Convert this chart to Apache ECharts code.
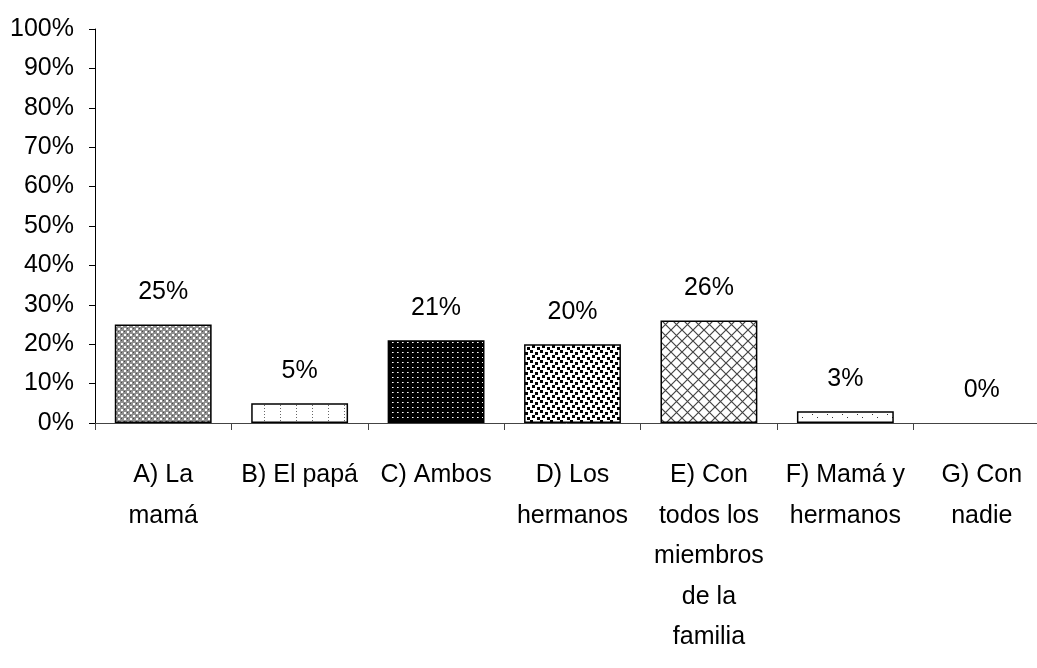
<!DOCTYPE html>
<html>
<head>
<meta charset="utf-8">
<script src="https://cdn.jsdelivr.net/npm/echarts@6/dist/echarts.min.js"></script>
<style>
html,body{margin:0;padding:0;background:#fff;}
#c{width:1037px;height:668px;}
</style>
</head>
<body>
<div id="c"></div>
<script>
const categories = [
  "A) La\nmamá",
  "B) El papá",
  "C) Ambos",
  "D) Los\nhermanos",
  "E) Con\ntodos los\nmiembros\nde la\nfamilia",
  "F) Mamá y\nhermanos",
  "G) Con\nnadie"
];
const values = [25, 5, 21, 20, 26, 3, 0];
const yTicks = [0, 10, 20, 30, 40, 50, 60, 70, 80, 90, 100];

const FONT = "'Liberation Sans', Arial, sans-serif";
const FS = 25;

function tile(w, h, draw) {
  const c = document.createElement('canvas');
  c.width = w; c.height = h;
  const ctx = c.getContext('2d');
  draw(ctx, w, h);
  return {image: c, repeat: 'repeat'};
}
const patterns = [
  // A: gray checker with white dots
  tile(6, 6, (x) => {
    x.fillStyle = '#8f8f8f'; x.fillRect(0, 0, 6, 6);
    x.fillStyle = '#ffffff';
    x.fillRect(1, 1, 2, 2); x.fillRect(4, 4, 2, 2);
    x.fillStyle = '#4a4a4a';
    x.fillRect(4, 1, 1, 1); x.fillRect(1, 4, 1, 1);
  }),
  // B: white with dotted vertical lines
  tile(16, 6, (x) => {
    x.fillStyle = '#ffffff'; x.fillRect(0, 0, 16, 6);
    x.fillStyle = '#666666';
    x.fillRect(8, 0, 1, 1); x.fillRect(8, 3, 1, 1);
  }),
  // C: black with white dots
  tile(5, 5, (x) => {
    x.fillStyle = '#000000'; x.fillRect(0, 0, 5, 5);
    x.fillStyle = '#ffffff'; x.fillRect(2, 2, 1, 1);
    x.fillStyle = '#999999'; x.fillRect(3, 2, 1, 1);
  }),
  // D: white with staggered black squares
  tile(10, 10, (x) => {
    x.fillStyle = '#ffffff'; x.fillRect(0, 0, 10, 10);
    x.fillStyle = '#000000';
    x.fillRect(0, 0, 3, 3); x.fillRect(5, 2, 3, 3);
    x.fillRect(2, 5, 3, 3); x.fillRect(7, 7, 3, 3);
  }),
  // E: diagonal crosshatch
  tile(11, 11, (x) => {
    x.fillStyle = '#ffffff'; x.fillRect(0, 0, 11, 11);
    x.strokeStyle = '#444444'; x.lineWidth = 1.2;
    x.beginPath();
    x.moveTo(0, 0); x.lineTo(11, 11);
    x.moveTo(11, 0); x.lineTo(0, 11);
    x.stroke();
  }),
  // F: sparse dots
  tile(15, 8, (x) => {
    x.fillStyle = '#ffffff'; x.fillRect(0, 0, 15, 8);
    x.fillStyle = '#333333';
    x.fillRect(7, 1, 1, 1); x.fillRect(2, 6, 1, 1);
  }),
  // G
  tile(4, 4, (x) => { x.fillStyle = '#ffffff'; x.fillRect(0, 0, 4, 4); })
];

const chart = echarts.init(document.getElementById('c'), null, {renderer: 'canvas'});
chart.setOption({
  animation: false,
  backgroundColor: '#ffffff',
  grid: {left: 95, right: -13, top: 29, bottom: 245, containLabel: false, outerBoundsMode: 'none'},
  xAxis: {
    type: 'category',
    data: categories,
    boundaryGap: true,
    axisLine: {lineStyle: {color: '#444444', width: 1}},
    axisTick: {show: true, alignWithLabel: false, interval: 0, length: 7, lineStyle: {color: '#444444'}},
    axisLabel: {
      interval: 0, color: '#000', fontFamily: FONT, fontSize: FS,
      lineHeight: 40.5, margin: 32
    }
  },
  yAxis: {
    type: 'value',
    min: yTicks[0], max: yTicks[yTicks.length - 1], interval: 10,
    axisLine: {show: true, lineStyle: {color: '#000', width: 1}},
    axisTick: {show: true, length: 6, lineStyle: {color: '#000'}},
    splitLine: {show: false},
    axisLabel: {
      color: '#000', fontFamily: FONT, fontSize: FS, margin: 21,
      formatter: '{value}%'
    }
  },
  series: [{
    type: 'bar',
    barWidth: '71%',
    data: values.map((v, i) => ({
      value: v,
      itemStyle: {color: patterns[i], borderColor: '#000', borderWidth: v > 0 ? 1.5 : 0}
    })),
    label: {
      show: true, position: 'top', distance: 20,
      color: '#000', fontFamily: FONT, fontSize: FS,
      formatter: '{c}%'
    }
  }]
});
</script>
</body>
</html>
